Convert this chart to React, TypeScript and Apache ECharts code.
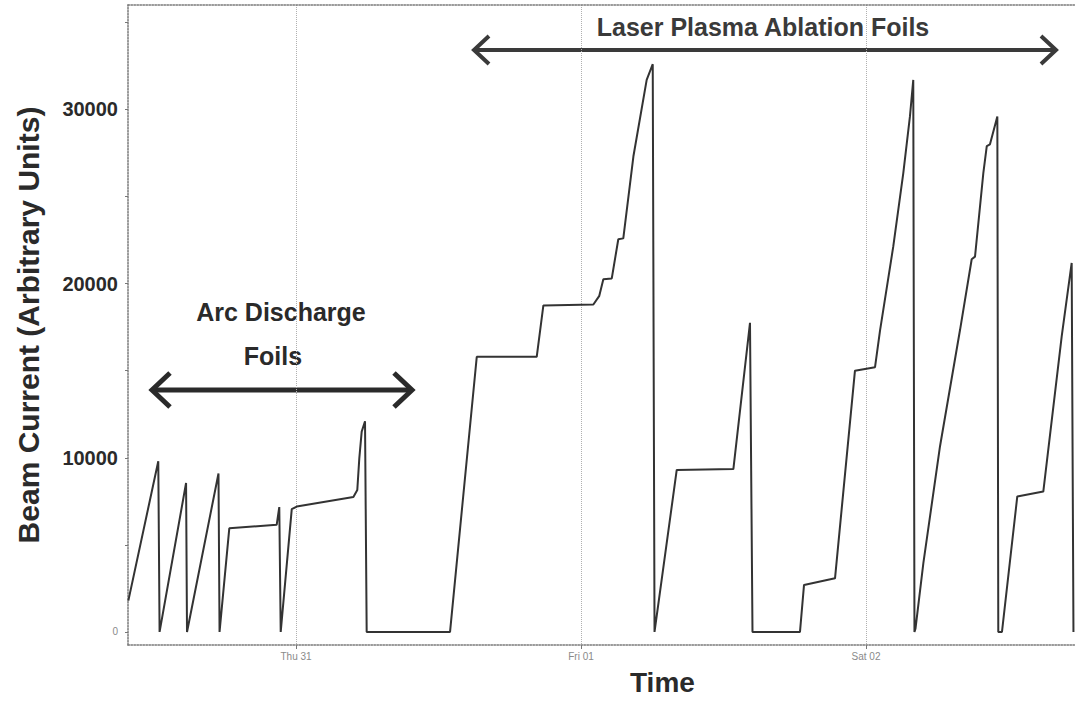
import React, { useEffect, useRef } from "react";
import * as echarts from "echarts";

// Time in hours relative to Thu 31, 00:00
const hoursFromThu31 = [
  -14.12, -11.6, -11.49, -9.26, -9.18, -6.53, -6.44, -5.62, -1.63, -1.41, -1.29, -0.36, 0.06,
  4.83, 5.16, 5.33, 5.53, 5.81, 5.95, 12.97, 15.22, 20.27, 20.83, 25.04, 25.54, 25.88, 26.59,
  27.14, 27.56, 28.41, 29.53, 30.04, 30.19, 32.06, 36.83, 38.23, 38.44, 42.44, 42.78, 45.39,
  47.07, 48.76, 49.18, 50.3, 51.14, 51.7, 51.98, 52.08, 52.17, 52.83, 54.23, 55.92, 56.9,
  57.18, 57.88, 58.17, 58.44, 59.06, 59.14, 59.45, 60.74, 62.93, 64.48, 65.32, 65.47,
];
const beamCurrent = [
  1800, 9800, 0, 8550, 0, 9100, 0, 5950, 6150, 7170, 0, 7050, 7200,
  7750, 8150, 9980, 11500, 12100, 0, 0, 15800, 15800, 18750, 18800, 19300, 20250, 20300,
  22550, 22600, 27300, 31700, 32600, 0, 9300, 9350, 17750, 0, 0, 2700, 3080,
  15000, 15200, 17300, 22150, 26350, 29600, 31700, 0, 200, 3950, 10650, 17350, 21400,
  21550, 26350, 27900, 28000, 29600, 0, 0, 7780, 8060, 16970, 21190, 0,
];

const dayTickHours = [0, 24, 48];
const dayTickLabels = ["Thu 31", "Fri 01", "Sat 02"];
const yLabelValues = [0, 10000, 20000, 30000];
const yTickValues = [0, 5000, 10000, 15000, 20000, 25000, 30000, 35000];
const xMin = -14.15;
const xMax = 65.6;
const yMin = -750;
const yMax = 36000;

const FONT = "'Liberation Sans', Arial, Helvetica, sans-serif";
const INK = "#2a2a2a";

export default function App() {
  const ref = useRef<HTMLDivElement>(null);

  useEffect(() => {
    const chart = echarts.init(ref.current!, null, { renderer: "svg" });
    const axisLineStyle = { color: "#7a7a7a", type: "dotted" as const, width: 1.5 };
    chart.setOption({
      animation: false,
      backgroundColor: "#ffffff",
      grid: { left: 128, right: 0, top: 5, bottom: 60 },
      xAxis: [
        {
          type: "value",
          min: xMin,
          max: xMax,
          axisLine: { show: true, onZero: false, lineStyle: axisLineStyle },
          axisTick: {
            show: true,
            customValues: dayTickHours,
            length: 4,
            lineStyle: { color: "#777" },
          },
          axisLabel: {
            customValues: dayTickHours,
            formatter: (v: number) => {
              const i = dayTickHours.indexOf(Math.round(v));
              return i >= 0 ? dayTickLabels[i] : "";
            },
            fontSize: 10,
            fontFamily: FONT,
            color: "#8a8a8a",
            margin: 6,
          },
          splitLine: {
            show: true,
            lineStyle: { type: "dotted", color: "#b0b0b0", width: 1 },
          },
        },
        {
          type: "value",
          position: "top",
          min: xMin,
          max: xMax,
          axisLine: { show: true, onZero: false, lineStyle: axisLineStyle },
          axisTick: { show: false },
          axisLabel: { show: false },
          splitLine: { show: false },
        },
      ],
      yAxis: {
        type: "value",
        min: yMin,
        max: yMax,
        axisLine: { show: true, onZero: false, lineStyle: axisLineStyle },
        axisTick: {
          show: true,
          customValues: yTickValues,
          length: 3,
          lineStyle: { color: "#777" },
        },
        axisLabel: {
          customValues: yLabelValues,
          margin: 10,
          formatter: (v: number) => (v === 0 ? "{z|0}" : `{b|${v}}`),
          rich: {
            z: { fontSize: 10, color: "#8a8a8a", fontFamily: FONT },
            b: { fontSize: 20, fontWeight: "bold", color: INK, fontFamily: FONT },
          },
        },
        splitLine: { show: false },
        name: "Beam Current (Arbitrary Units)",
        nameLocation: "middle",
        nameRotate: 90,
        nameGap: 85,
        nameTextStyle: {
          fontSize: 30,
          fontWeight: "bold",
          color: INK,
          fontFamily: FONT,
        },
      },
      series: [
        {
          type: "line",
          data: hoursFromThu31.map((h, i) => [h, beamCurrent[i]]),
          showSymbol: false,
          symbol: "none",
          lineStyle: { color: "#333333", width: 2 },
          clip: true,
        },
      ],
      graphic: [
        {
          type: "text",
          left: 630,
          top: 668,
          style: {
            text: "Time",
            fontSize: 28,
            fontWeight: "bold",
            fill: INK,
            fontFamily: FONT,
          },
        },
        {
          type: "text",
          x: 281,
          y: 312,
          style: {
            text: "Arc Discharge",
            fontSize: 25,
            fontWeight: "bold",
            fill: INK,
            fontFamily: FONT,
            align: "center",
            verticalAlign: "middle",
          },
        },
        {
          type: "text",
          x: 273,
          y: 356,
          style: {
            text: "Foils",
            fontSize: 25,
            fontWeight: "bold",
            fill: INK,
            fontFamily: FONT,
            align: "center",
            verticalAlign: "middle",
          },
        },
        {
          type: "line",
          shape: { x1: 153, y1: 390, x2: 411, y2: 390 },
          style: { stroke: INK, lineWidth: 5 },
        },
        {
          type: "polyline",
          shape: { points: [[170, 373], [152, 390], [170, 407]] },
          style: { stroke: INK, lineWidth: 5, fill: null },
        },
        {
          type: "polyline",
          shape: { points: [[394, 373], [412, 390], [394, 407]] },
          style: { stroke: INK, lineWidth: 5, fill: null },
        },
        {
          type: "text",
          x: 763,
          y: 27,
          style: {
            text: "Laser Plasma Ablation Foils",
            fontSize: 25,
            fontWeight: "bold",
            fill: "#3a3a3a",
            fontFamily: FONT,
            align: "center",
            verticalAlign: "middle",
          },
        },
        {
          type: "line",
          shape: { x1: 474, y1: 50, x2: 1056, y2: 50 },
          style: { stroke: "#3a3a3a", lineWidth: 4 },
        },
        {
          type: "polyline",
          shape: { points: [[489, 36], [474, 50], [489, 64]] },
          style: { stroke: "#3a3a3a", lineWidth: 4, fill: null },
        },
        {
          type: "polyline",
          shape: { points: [[1041, 36], [1056, 50], [1041, 64]] },
          style: { stroke: "#3a3a3a", lineWidth: 4, fill: null },
        },
      ],
    });
    return () => chart.dispose();
  }, []);

  return (
    <div
      ref={ref}
      style={{ position: "absolute", left: 0, top: 0, width: 1075, height: 705 }}
    />
  );
}
